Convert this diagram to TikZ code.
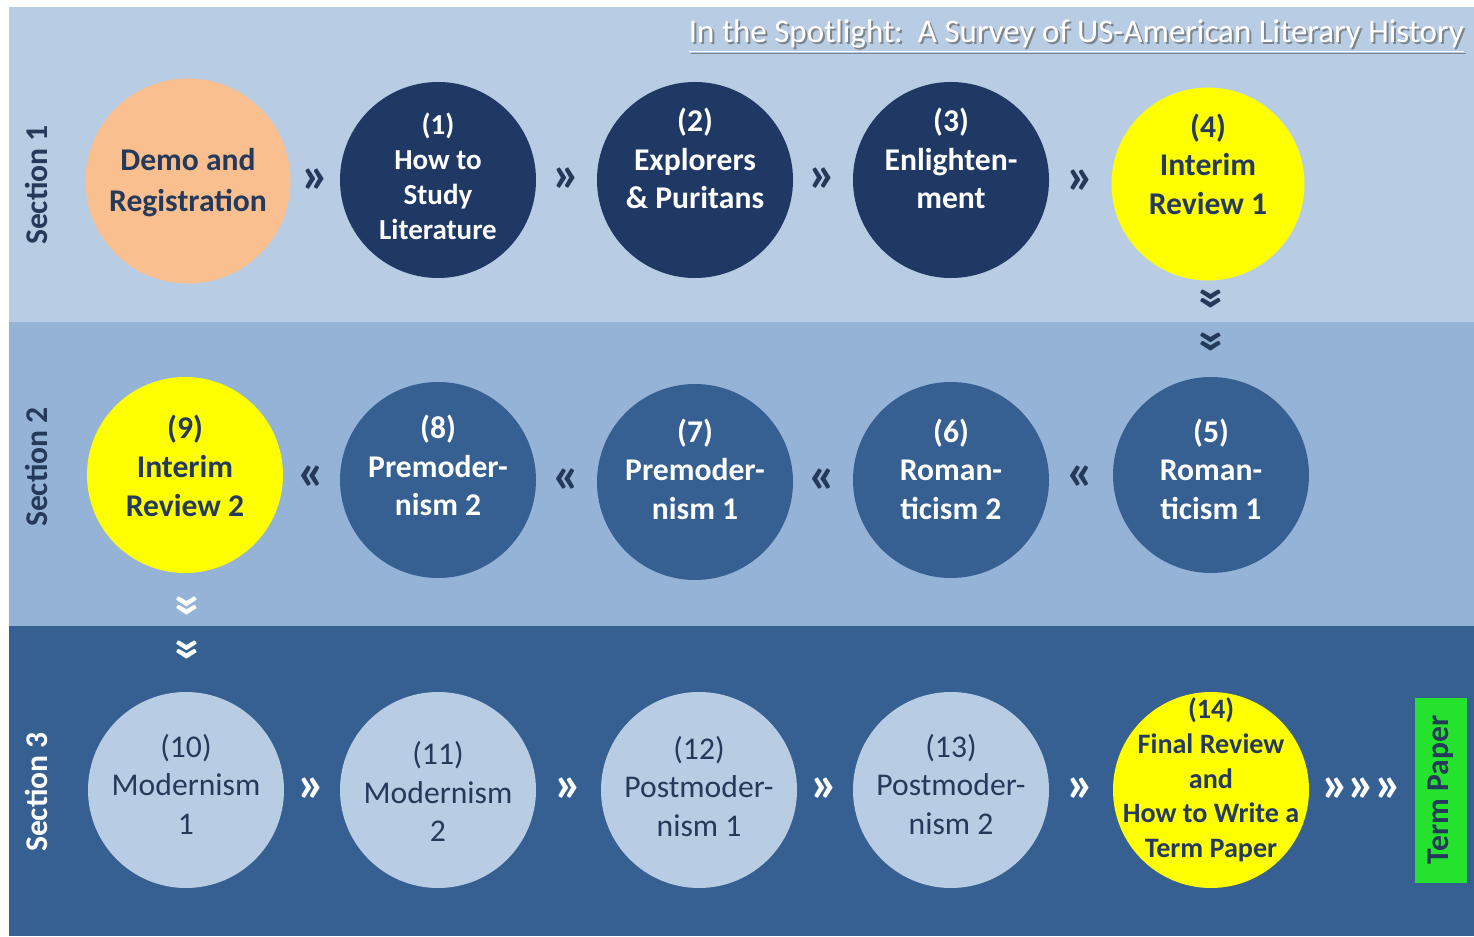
\documentclass[tikz,border=0pt]{standalone}
\usepackage{fontspec}
\setmainfont{Carlito}
\usetikzlibrary{positioning}

\definecolor{bandone}{RGB}{184,204,228}
\definecolor{bandtwo}{RGB}{149,179,215}
\definecolor{bandthree}{RGB}{54,96,146}
\definecolor{navy}{RGB}{31,56,100}
\definecolor{darktext}{RGB}{37,58,90}
\definecolor{demoorange}{RGB}{250,191,143}
\definecolor{reviewyellow}{RGB}{255,255,0}
\definecolor{papergreen}{RGB}{36,226,46}

% text block inside a circle, lifted a little
\newcommand{\ctext}[2]{\raisebox{#1}[\height][\depth]{\begin{tabular}{@{}c@{}}#2\end{tabular}}}

\tikzset{
  lesson/.style={circle, minimum size=3.92cm, inner sep=0pt,
    font=\fontsize{18}{22}\selectfont\bfseries},
  rowone/.style={lesson, fill=navy, text=white},
  rowtwo/.style={lesson, fill=bandthree, text=white},
  rowthree/.style={lesson, fill=bandone, text=darktext,
    font=\fontsize{18}{22}\selectfont},
  review/.style={lesson, fill=reviewyellow, text=darktext},
  chev/.style={font=\fontsize{30}{30}\selectfont\bfseries, text=darktext, inner sep=0pt},
  chevlight/.style={chev, text=white},
  seclabel/.style={rotate=90, font=\fontsize{18}{20}\selectfont\bfseries, text=darktext}
}

\begin{document}
\begin{tikzpicture}[x=0.2mm,y=-0.2mm]
  \useasboundingbox (0,0) rectangle (1474,937);
  \fill[white] (0,0) rectangle (1474,937);

  % the three section bands
  \fill[bandone] (9,7) rectangle (1474,322);
  \fill[bandtwo] (9,322) rectangle (1474,626);
  \fill[bandthree] (9,626) rectangle (1474,936);

  % title
  \node[anchor=east, text=black!60, opacity=0.7, font=\fontsize{18.8}{20}\selectfont]
    (titleshadow) at (1472,38) {\underline{In the Spotlight:\ \ A Survey of US-American Literary History}};
  \node[anchor=east, text=white, font=\fontsize{18.8}{20}\selectfont]
    (title) at (1470,36) {\underline{In the Spotlight:\ \ A Survey of US-American Literary History}};

  % section labels
  \node[seclabel] (secone) at (36,185) {Section 1};
  \node[seclabel] (sectwo) at (36,467) {Section 2};
  \node[seclabel, text=white] (secthree) at (36,792) {Section 3};

  % row 1
  \node[lesson, fill=demoorange, text=darktext, minimum size=4.1cm,
    font=\fontsize{18}{23}\selectfont\bfseries] (demo) at (188,181) {\ctext{-1pt}{Demo and\\Registration}};
  \node[rowone, font=\fontsize{16.5}{19.8}\selectfont\bfseries] (l1) at (438,180)
    {\ctext{0pt}{(1)\\How to\\Study\\Literature}};
  \node[rowone] (l2) at (695,180) {\ctext{10pt}{(2)\\Explorers\\\& Puritans}};
  \node[rowone] (l3) at (951,180) {\ctext{10pt}{(3)\\Enlighten-\\ment}};
  \node[review, minimum size=3.86cm] (rev1) at (1208,184) {\ctext{9pt}{(4)\\Interim\\Review 1}};

  % row 2
  \node[rowtwo] (l5) at (1211,475) {\ctext{1pt}{(5)\\Roman-\\ticism 1}};
  \node[rowtwo] (l6) at (951,480) {\ctext{4pt}{(6)\\Roman-\\ticism 2}};
  \node[rowtwo] (l7) at (695,482) {\ctext{5pt}{(7)\\Premoder-\\nism 1}};
  \node[rowtwo] (l8) at (438,480) {\ctext{6pt}{(8)\\Premoder-\\nism 2}};
  \node[review] (rev2) at (185,475) {\ctext{3pt}{(9)\\Interim\\Review 2}};

  % row 3
  \node[rowthree] (l10) at (186,790) {\ctext{1pt}{(10)\\Modernism\\1}};
  \node[rowthree] (l11) at (438,790) {\ctext{-3pt}{(11)\\Modernism\\2}};
  \node[rowthree] (l12) at (699,790) {\ctext{0pt}{(12)\\Postmoder-\\nism 1}};
  \node[rowthree] (l13) at (951,790) {\ctext{1pt}{(13)\\Postmoder-\\nism 2}};
  \node[review, font=\fontsize{16}{19.8}\selectfont\bfseries] (fin) at (1211,790)
    {\makebox[0pt]{\ctext{5pt}{(14)\\Final Review\\and\\How to Write a\\Term Paper}}};

  \node[rectangle, fill=papergreen, rotate=90, minimum width=3.7cm, minimum height=1.04cm,
    inner sep=0pt, text=darktext, font=\fontsize{18}{20}\selectfont\bfseries]
    (paper) at (1441,790) {Term Paper};

  % chevrons between the circles
  \path (demo) -- (l1) node[chev, midway] (c1) {»};
  \path (l1) -- (l2) node[chev, midway] (c2) {»};
  \path (l2) -- (l3) node[chev, midway] (c3) {»};
  \path (l3) -- (rev1) node[chev, midway] (c4) {»};
  \path (rev1) -- (l5) node[chev, rotate=-90, pos=0.2] (d1) {»}
                       node[chev, rotate=-90, pos=0.65] (d2) {»};
  \path (l5) -- (l6) node[chev, midway] (c5) {«};
  \path (l6) -- (l7) node[chev, midway] (c6) {«};
  \path (l7) -- (l8) node[chev, midway] (c7) {«};
  \path (l8) -- (rev2) node[chev, midway] (c8) {«};
  \path (rev2) -- (l10) node[chevlight, rotate=-90, pos=0.28] (d3) {»}
                        node[chevlight, rotate=-90, pos=0.65] (d4) {»};
  \path (l10) -- (l11) node[chevlight, midway] (c9) {»};
  \path (l11) -- (l12) node[chevlight, midway] (c10) {»};
  \path (l12) -- (l13) node[chevlight, midway] (c11) {»};
  \path (l13) -- (fin) node[chevlight, midway] (c12) {»};
  \path (fin) -- (paper) node[chevlight, midway] (c13) {»\kern-1pt»\kern-1pt»};
\end{tikzpicture}
\end{document}
